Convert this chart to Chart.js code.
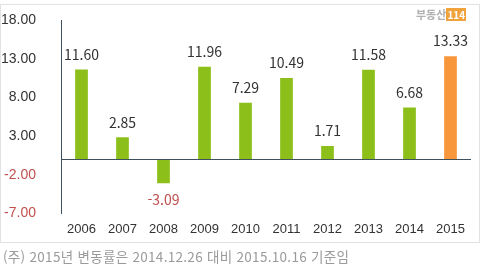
<!DOCTYPE html>
<html lang="ko">
<head>
<meta charset="utf-8">
<title>변동률</title>
<script src="https://cdn.jsdelivr.net/npm/chart.js@4/dist/chart.umd.min.js"></script>
<style>
  body { margin: 0; background: #fff; font-family: "Noto Sans CJK KR", "Noto Sans", sans-serif; }
  #wrap { position: relative; width: 484px; height: 266px; }
  #box { position: absolute; left: 0; top: 4px; width: 480px; height: 239px; border: 1px solid #e2e2e2; box-sizing: border-box; }
  #chart { position: absolute; left: 0; top: 0; }
  #logo { position: absolute; left: 416px; top: 8px; font-size: 11px; line-height: 13px; color: #b0b0b0; font-weight: bold; }
  #logo span { display: inline-block; background: #f0a23c; color: #fff; padding: 0 1px; font-size: 10px; }
  #note { position: absolute; left: 3px; top: 246px; font-size: 13.5px; color: #9a9a9a; letter-spacing: 0.3px; }
</style>
</head>
<body>
<div id="wrap">
  <div id="box"></div>
  <canvas id="chart" width="484" height="266"></canvas>
  <div id="logo">부동산<span>114</span></div>
  <div id="note">(주) 2015년 변동률은 2014.12.26 대비 2015.10.16 기준임</div>
</div>
<script>
var years = ['2006', '2007', '2008', '2009', '2010', '2011', '2012', '2013', '2014', '2015'];
var rates = [11.60, 2.85, -3.09, 11.96, 7.29, 10.49, 1.71, 11.58, 6.68, 13.33];
var yTicks = [-7, -2, 3, 8, 13, 18];

var green = '#8cbf1a';
var orange = '#f7963a';
var red = '#c0504d';
var dark = '#333333';

// zero line + value labels
var extras = {
  id: 'extras',
  afterDatasetsDraw: function (chart) {
    var ctx = chart.ctx;
    var y = chart.scales.y;
    var area = chart.chartArea;
    var y0 = y.getPixelForValue(0);
    ctx.save();
    ctx.strokeStyle = '#3e4f5e';
    ctx.lineWidth = 1;
    ctx.beginPath();
    ctx.moveTo(area.left, Math.round(y0) + 0.5);
    ctx.lineTo(area.right, Math.round(y0) + 0.5);
    ctx.stroke();

    ctx.font = '14px "Noto Sans CJK KR", "Noto Sans", sans-serif';
    ctx.textAlign = 'center';
    chart.getDatasetMeta(0).data.forEach(function (bar, i) {
      var v = rates[i];
      if (v < 0) {
        ctx.fillStyle = red;
        ctx.textBaseline = 'top';
        ctx.fillText(v.toFixed(2), bar.x, bar.y + 10);
      } else {
        ctx.fillStyle = dark;
        ctx.textBaseline = 'bottom';
        ctx.fillText(v.toFixed(2), bar.x, bar.y - 8);
      }
    });
    ctx.restore();
  }
};

new Chart(document.getElementById('chart'), {
  type: 'bar',
  data: {
    labels: years,
    datasets: [{
      data: rates,
      backgroundColor: rates.map(function (v, i) { return i === rates.length - 1 ? orange : green; }),
      barPercentage: 0.62,
      categoryPercentage: 0.5
    }]
  },
  options: {
    responsive: false,
    animation: false,
    events: [],
    layout: { padding: { left: 0, right: 13, top: 20, bottom: 29 } },
    plugins: { legend: { display: false }, tooltip: { enabled: false } },
    scales: {
      x: {
        grid: { display: false },
        border: { display: false },
        ticks: { color: dark, font: { size: 13 }, padding: 0 }
      },
      y: {
        min: -7,
        max: 18,
        afterBuildTicks: function (axis) {
          axis.ticks = yTicks.map(function (v) { return { value: v }; });
        },
        afterFit: function (axis) {
          axis.width = 61;
          axis.paddingTop = 0;
          axis.paddingBottom = 0;
        },
        grid: { display: false },
        border: { display: true, color: '#3e4f5e', width: 1 },
        ticks: {
          padding: 17,
          font: { size: 14 },
          color: function (c) { return c.tick.value < 0 ? red : dark; },
          callback: function (v) { return v.toFixed(2); }
        }
      }
    }
  },
  plugins: [extras]
});
</script>
</body>
</html>
